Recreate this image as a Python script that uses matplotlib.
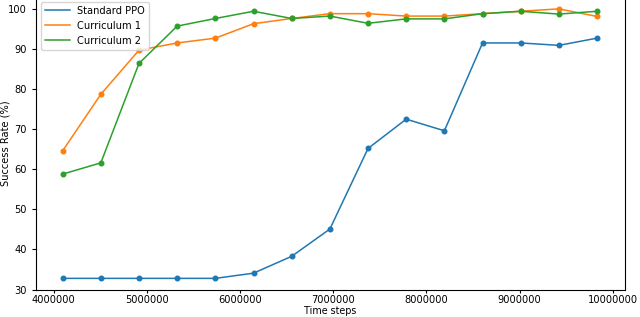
import matplotlib
matplotlib.use("Agg")
import matplotlib.pyplot as plt
from matplotlib.lines import Line2D

steps = [4096000 + k * 409600 for k in range(15)]
standard_ppo = [32.8, 32.8, 32.8, 32.8, 32.8, 34.1, 38.3, 45.1, 65.2, 72.5, 69.6, 91.5, 91.5, 90.9, 92.7]
curriculum_1 = [64.6, 78.7, 89.7, 91.5, 92.7, 96.3, 97.6, 98.8, 98.8, 98.2, 98.2, 98.8, 99.4, 100.0, 98.1]
curriculum_2 = [58.8, 61.6, 86.4, 95.7, 97.6, 99.4, 97.6, 98.2, 96.4, 97.5, 97.5, 98.8, 99.4, 98.7, 99.4]
labels = ['Standard PPO', 'Curriculum 1', 'Curriculum 2']
colors = ['#1f77b4', '#ff7f0e', '#2ca02c']
xticks = [4000000, 5000000, 6000000, 7000000, 8000000, 9000000, 10000000]
yticks = [30, 40, 50, 60, 70, 80, 90, 100]

fs = 7.1
W, H = 640, 317
bottom_px = 290
fig = plt.figure(figsize=(6.4, 3.17), dpi=100)
ax = fig.add_axes([36/W, 1 - bottom_px/H, (625 - 36)/W, bottom_px/H + 0.01])
for ys, c, lab in zip([standard_ppo, curriculum_1, curriculum_2], colors, labels):
    ax.plot(steps, ys, '-o', color=c, lw=1.1, ms=3.3, label=lab)
ax.set_xticks(xticks)
ax.set_xticklabels([str(t) for t in xticks])
ax.set_yticks(yticks)
ax.set_xlim(3810000, 10130000)
ax.set_ylim(29.9, 103.0)
ax.tick_params(labelsize=fs, length=3)
ax.tick_params(axis='x', pad=0.8, length=2.5)
ax.set_xlabel('Time steps', fontsize=6.9)
ax.xaxis.set_label_coords(0.5, -16.5 / (bottom_px + 3.17))
ax.set_ylabel('Success Rate (%)', fontsize=fs)
ax.yaxis.set_label_coords(-0.043, 0.5)
handles = [Line2D([], [], color=c, lw=1.1) for c in colors]
ax.legend(handles, labels, loc='upper left', fontsize=fs, handlelength=2.5)
fig.savefig('out.png', dpi=100)
